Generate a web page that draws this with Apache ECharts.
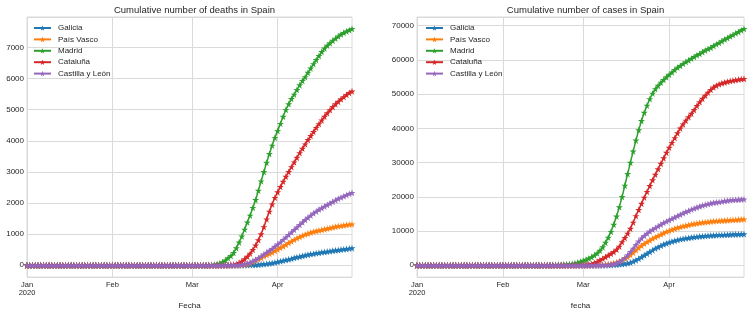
<!DOCTYPE html>
<html>
<head>
<meta charset="utf-8">
<script src="https://cdn.jsdelivr.net/npm/echarts@6/dist/echarts.min.js"></script>
<style>
  html, body { margin: 0; padding: 0; background: #fff; }
  #chart { width: 750px; height: 315px; }
</style>
</head>
<body>
<div id="chart"></div>
<script>
// series names
const regions = ['Galicia', 'País Vasco', 'Madrid', 'Cataluña', 'Castilla y León'];
const colors = ['#1f77b4', '#ff7f0e', '#2ca02c', '#d62728', '#9467bd'];
const monthNames = ['Jan', 'Feb', 'Mar', 'Apr'];

// Jan 1 .. Feb 15 : nothing reported
const leadZeros = [0,0,0,0,0,0,0,0,0,0, 0,0,0,0,0,0,0,0,0,0, 0,0,0,0,0,0,0,0,0,0, 0,0,0,0,0,0,0,0,0,0, 0,0,0,0,0,0];

// values from Feb 16 to Apr 28 (14 Feb days, 31 Mar days, 28 Apr days)
// deaths
const deathsGalicia = [0,0,0,0,0,0,0,0,0,0,0,0,0,0,
  0,0,0,0,0,0,0,0,0,0, 0,0,0,0,0,0,0,1,3,5, 7,9,12,15,20,30,40,50,60,70, 90,
  110,130,150,170,190,210,240,260,280,300, 320,340,360,370,390,400,420,430,440,450, 470,480,490,505,515,525,540,550];
const deathsPaisVasco = [0,0,0,0,0,0,0,0,0,0,0,0,0,0,
  0,0,0,0,0,0,0,0,0,0, 0,0,0,0,0,0,3,6,10,20, 40,70,110,160,200,240,290,330,370,410, 460,
  510,560,610,660,720,770,820,870,910,950, 990,1020,1050,1080,1100,1120,1140,1160,1180,1200, 1220,1240,1260,1270,1285,1300,1310,1320];
const deathsMadrid = [0,0,0,0,0,0,0,0,0,0,0,0,0,0,
  0,0,0,0,1,2,5,10,20,35, 60,100,160,230,300,400,550,735,930,1150, 1380,1600,1850,2100,2400,2700,3000,3300,3580,3850, 4100,
  4320,4550,4780,5000,5180,5350,5490,5640,5790,5930, 6050,6190,6330,6470,6600,6730,6860,6970,7060,7140, 7220,7290,7360,7420,7470,7520,7560,7600];
const deathsCataluna = [0,0,0,0,0,0,0,0,0,0,0,0,0,0,
  0,0,0,0,0,0,0,0,1,2, 3,5,8,12,18,25,40,80,130,200, 280,380,500,640,810,1000,1230,1480,1730,1960, 2170,
  2350,2520,2690,2850,3000,3160,3310,3460,3610,3750, 3890,4030,4160,4290,4420,4540,4660,4780,4890,4990, 5090,5180,5260,5340,5410,5480,5540,5590];
const deathsCyL = [0,0,0,0,0,0,0,0,0,0,0,0,0,0,
  0,0,0,0,0,0,0,0,0,0, 0,0,0,1,3,5,8,12,20,40, 60,90,130,180,230,290,350,410,470,530, 600,
  670,740,820,900,980,1060,1140,1220,1300,1380, 1460,1530,1600,1670,1730,1790,1840,1890,1940,1990, 2040,2090,2140,2180,2220,2260,2300,2330];

// cases
const casesGalicia = [0,0,0,0,0,0,0,0,0,0,0,0,0,0,
  0,0,0,0,0,10,20,30,50,70, 100,150,200,270,350,450,600,800,1100,1500, 1900,2400,2900,3400,3900,4400,4900,5300,5700,6100, 6400,
  6700,6950,7200,7400,7600,7750,7900,8000,8150,8250, 8350,8450,8500,8580,8650,8700,8750,8800,8850,8880, 8920,8950,8980,9010,9040,9070,9100,9120];
const casesPaisVasco = [0,0,0,0,0,0,0,0,0,0,0,0,0,0,
  0,0,0,20,40,70,110,160,230,320, 450,620,850,1150,1500,1900,2400,3000,3700,4400, 5100,5700,6300,6800,7300,7800,8200,8600,9000,9400, 9800,
  10100,10400,10700,11000,11200,11400,11600,11800,12000,12100, 12250,12400,12500,12600,12700,12800,12900,12950,13000,13050, 13100,13150,13200,13250,13300,13350,13400,13450];
const casesMadrid = [20,30,50,80,100,130,170,220,280,350,450,600,800,1050,
  1350,1650,2000,2400,2900,3500,4300,5300,6600,8100, 9800,11900,14300,17000,20000,23300,26700,30000,33300,36500, 39500,42200,44600,46700,48600,50200,51500,52500,53400,54200, 55000,
  55700,56400,57100,57800,58300,58900,59400,59900,60400,60900, 61400,61800,62300,62800,63200,63600,64100,64600,65000,65500, 66000,66400,66900,67300,67800,68200,68700,69100];
const casesCataluna = [0,0,0,0,0,0,0,0,10,20,30,50,70,100,
  150,200,300,400,700,1000,1500,1900,2400,2900, 3400,3900,4600,5500,6800,8000,9300,10700,12500,14400, 16200,18000,19800,21500,23200,24900,26500,28100,29700,31300, 32900,
  34400,35800,37200,38600,40000,41200,42300,43300,44300,45400, 46600,47700,48700,49600,50500,51300,52000,52500,52900,53200, 53450,53650,53850,54000,54150,54300,54400,54500];
const casesCyL = [0,0,0,0,0,0,0,0,0,0,0,0,0,0,
  0,0,0,0,10,20,40,70,100,150, 250,400,650,1000,1500,2200,3000,3900,4900,6000, 7000,7900,8600,9300,9900,10400,10900,11400,11900,12400, 12800,
  13200,13600,14000,14400,14800,15200,15600,15900,16300,16600, 16900,17200,17500,17700,17900,18100,18300,18400,18500,18650, 18800,18900,19000,19100,19150,19200,19250,19300];

const deaths = [deathsGalicia, deathsPaisVasco, deathsMadrid, deathsCataluna, deathsCyL];
const cases = [casesGalicia, casesPaisVasco, casesMadrid, casesCataluna, casesCyL];

// one category per day, starting Jan 1 2020
const startDate = Date.UTC(2020, 0, 1);
const dayCount = leadZeros.length + casesMadrid.length;
const dates = [];
for (let i = 0; i < dayCount; i++) {
  dates.push(new Date(startDate + i * 86400000).toISOString().slice(0, 10));
}

const star = 'path://M100,0 L122.45,69.1 L195.1,69.1 L136.33,111.8 L158.8,180.9 L100,138.2 L41.2,180.9 L63.67,111.8 L4.9,69.1 L77.55,69.1 Z';
const font = "'Liberation Sans', Arial, sans-serif";
const textColor = '#262626';
const gridColor = '#dadada';

function isMonthStart(idx, val) {
  return val.slice(8) === '01';
}

function xAxisFor(gridIndex, name) {
  return {
    type: 'category',
    gridIndex: gridIndex,
    data: dates,
    boundaryGap: false,
    name: name,
    nameLocation: 'middle',
    nameGap: 21,
    nameTextStyle: { color: textColor, fontSize: 8, fontFamily: font },
    axisLine: { show: false },
    axisTick: { show: false },
    axisLabel: {
      interval: isMonthStart,
      color: textColor,
      fontSize: 7.5,
      fontFamily: font,
      lineHeight: 8,
      margin: 4,
      formatter: function (val) {
        const m = parseInt(val.slice(5, 7), 10) - 1;
        return m === 0 ? monthNames[m] + '\n2020' : monthNames[m];
      }
    },
    splitLine: { show: true, interval: isMonthStart, lineStyle: { color: gridColor, width: 1 } }
  };
}

function yAxisFor(gridIndex, groups, step) {
  const top = Math.max.apply(null, groups.map(function (g) { return Math.max.apply(null, g); }));
  return {
    type: 'value',
    gridIndex: gridIndex,
    min: -0.05 * top,
    max: 1.05 * top,
    minInterval: step,
    maxInterval: step,
    axisLine: { show: false },
    axisTick: { show: false },
    axisLabel: {
      color: textColor, fontSize: 8, fontFamily: font, margin: 3,
      showMinLabel: false, showMaxLabel: false,
      formatter: function (v) { return String(Math.round(v)); }
    },
    splitLine: { lineStyle: { color: gridColor, width: 1 } }
  };
}

let series = [];
[deaths, cases].forEach(function (group, g) {
  group.forEach(function (vals, k) {
    series.push({
      name: regions[k],
      type: 'line',
      xAxisIndex: g,
      yAxisIndex: g,
      data: leadZeros.concat(vals),
      symbol: star,
      symbolSize: 7,
      showAllSymbol: true,
      animation: false,
      lineStyle: { width: 1.5, color: colors[k] },
      itemStyle: { color: colors[k] }
    });
  });
});

function legendAt(left) {
  return {
    orient: 'vertical',
    left: left,
    top: 24,
    padding: 0,
    itemWidth: 17,
    itemHeight: 7,
    itemGap: 3.4,
    data: regions,
    textStyle: { color: textColor, fontSize: 8, fontFamily: font, padding: [0, 0, 0, 2] }
  };
}

let chart = echarts.init(document.getElementById('chart'));
let option = {
  backgroundColor: '#fff',
  color: colors,
  animation: false,
  title: [
    { text: 'Cumulative number of deaths in Spain', left: 189.5, top: 0, textAlign: 'center',
      textStyle: { color: textColor, fontSize: 9.5, fontWeight: 'normal', fontFamily: font } },
    { text: 'Cumulative number of cases in Spain', left: 580.5, top: 0, textAlign: 'center',
      textStyle: { color: textColor, fontSize: 9.5, fontWeight: 'normal', fontFamily: font } }
  ],
  legend: [legendAt(33), legendAt(425)],
  grid: [
    { left: 27, right: 398, top: 17, bottom: 36, show: true, borderColor: gridColor, borderWidth: 1 },
    { left: 417, right: 6, top: 17, bottom: 36, show: true, borderColor: gridColor, borderWidth: 1 }
  ],
  xAxis: [xAxisFor(0, 'Fecha'), xAxisFor(1, 'fecha')],
  yAxis: [yAxisFor(0, deaths, 1000), yAxisFor(1, cases, 10000)],
  series: series
};
chart.setOption(option);
</script>
</body>
</html>
